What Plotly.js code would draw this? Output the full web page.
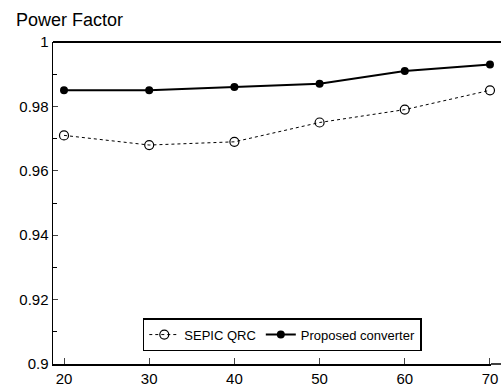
<!DOCTYPE html>
<html><head><meta charset="utf-8">
<script src="https://cdn.plot.ly/plotly-3.0.1.min.js"></script>
<style>html,body{margin:0;padding:0;background:#fff;overflow:hidden}#c{width:501px;height:388px}</style>
</head><body><div id="c"></div>
<script>
const power = [20, 30, 40, 50, 60, 70];
const sepicQRC = [0.971, 0.968, 0.969, 0.975, 0.979, 0.985];
const proposed = [0.985, 0.985, 0.986, 0.987, 0.991, 0.993];
const yTickVals = [0.9, 0.92, 0.94, 0.96, 0.98, 1];
const yTickText = ["0.9", "0.92", "0.94", "0.96", "0.98", "1"];
const xTickVals = [20, 30, 40, 50, 60, 70];

const traces = [
  {x: power, y: sepicQRC, name: "SEPIC QRC", mode: "lines+markers", cliponaxis: false,
   line: {color: "#000", width: 1, dash: "dot"},
   marker: {symbol: "circle-open", size: 9, color: "#000", line: {width: 1.2}}},
  {x: power, y: proposed, name: "Proposed converter", mode: "lines+markers", cliponaxis: false,
   line: {color: "#000", width: 2},
   marker: {symbol: "circle", size: 8, color: "#000"}}
];
const layout = {
  width: 501, height: 388,
  margin: {l: 53, r: 10, t: 42, b: 24, pad: 0},
  paper_bgcolor: "#fff", plot_bgcolor: "#fff",
  font: {family: "Liberation Sans, Arial, sans-serif", size: 15, color: "#000"},
  showlegend: true,
  legend: {orientation: "h", x: 0.205, y: 0.04, xanchor: "left", yanchor: "bottom",
           bordercolor: "#000", borderwidth: 1.5, bgcolor: "#fff",
           font: {size: 13}, itemwidth: 30},
  xaxis: {range: [18.709, 70.12], tickvals: xTickVals, ticks: "inside", ticklen: 6,
          showline: true, linecolor: "#000", linewidth: 1.5, mirror: false,
          showgrid: false, zeroline: false, tickfont: {size: 15}},
  yaxis: {range: [0.9, 1.0], tickvals: yTickVals, ticktext: yTickText,
          ticks: "inside", ticklen: 5, showline: true, linecolor: "#000", linewidth: 1.5,
          minor: {dtick: 0.01, ticks: "inside", ticklen: 4, tickcolor: "#000", showgrid: false},
          showgrid: false, zeroline: false, tickfont: {size: 15}},
  shapes: [
    {type: "line", xref: "paper", yref: "paper", x0: 0, x1: 1.0228, y0: 1, y1: 1,
     line: {color: "#000", width: 2}},
    {type: "line", xref: "paper", yref: "paper", x0: 1, x1: 1.0228, y0: 0, y1: 0,
     line: {color: "#000", width: 1.5}}],
  annotations: [{text: "Power Factor", xref: "paper", yref: "paper", x: -0.09, y: 1.0,
                 xanchor: "left", yanchor: "bottom", yshift: 10, showarrow: false,
                 font: {size: 18}}]
};
Plotly.newPlot("c", traces, layout, {displayModeBar: false, staticPlot: true});
</script></body></html>
